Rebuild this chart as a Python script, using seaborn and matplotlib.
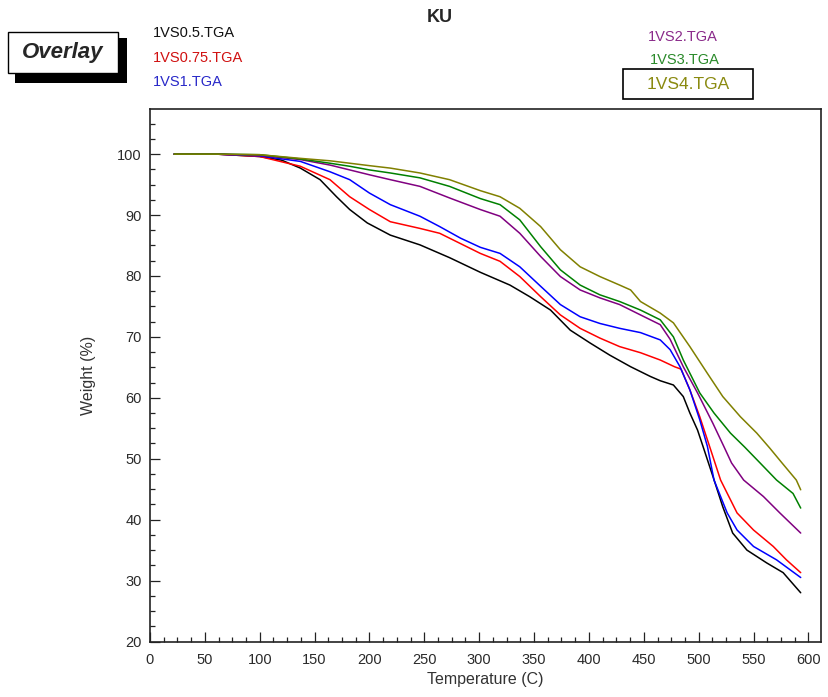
import numpy as np
import pandas as pd
import seaborn as sns
import matplotlib.pyplot as plt
from matplotlib.patches import Rectangle
from matplotlib.ticker import MultipleLocator

# TGA curves: temperature (C) and weight (%)
t_05 = [22, 60, 100, 120, 137, 155, 170, 182, 198, 219, 246, 273, 301, 328, 346, 365, 383, 401,
        419, 438, 456, 465, 477, 486, 492, 499, 504, 513, 522, 531, 544, 562, 577, 593]
w_05 = [100, 100, 99.6, 99.0, 97.7, 95.8, 93.0, 90.9, 88.7, 86.7, 85.1, 83.0, 80.6, 78.5, 76.6, 74.4, 71.1, 69.0,
        67.0, 65.1, 63.5, 62.8, 62.1, 60.2, 57.5, 54.7, 52.0, 47.1, 42.1, 37.8, 35.0, 32.9, 31.3, 28.0]

t_075 = [22, 60, 100, 137, 164, 182, 200, 219, 246, 264, 301, 319, 337, 356, 374, 392, 410, 428,
         447, 465, 478, 484, 492, 501, 510, 520, 535, 550, 568, 580, 593]
w_075 = [100, 100, 99.6, 98.0, 95.8, 93.0, 90.9, 88.9, 87.8, 87.0, 83.7, 82.4, 79.9, 76.6, 73.6, 71.4, 69.8, 68.4,
         67.4, 66.2, 65.1, 64.7, 61.3, 56.9, 52.0, 46.5, 41.1, 38.3, 35.6, 33.4, 31.3]

t_1 = [22, 60, 100, 137, 164, 182, 200, 219, 246, 264, 283, 301, 319, 337, 356, 374, 392, 410,
       428, 447, 465, 474, 483, 492, 501, 508, 514, 526, 535, 550, 571, 593]
w_1 = [100, 100, 99.7, 98.8, 97.1, 95.8, 93.6, 91.7, 89.8, 88.1, 86.2, 84.7, 83.7, 81.5, 78.3, 75.3, 73.3, 72.2,
       71.4, 70.7, 69.5, 67.9, 65.1, 61.3, 56.4, 52.0, 46.5, 41.1, 38.3, 35.6, 33.4, 30.5]

t_2 = [22, 60, 100, 137, 164, 182, 200, 219, 246, 273, 301, 319, 337, 356, 374, 392, 410, 428,
       447, 465, 474, 486, 499, 513, 523, 530, 541, 559, 574, 593]
w_2 = [100, 100, 99.8, 99.1, 98.2, 97.4, 96.6, 95.8, 94.7, 92.8, 90.9, 89.8, 87.0, 83.2, 79.9, 77.7, 76.4, 75.3,
       73.6, 72.0, 69.6, 65.1, 60.8, 55.8, 52.0, 49.3, 46.5, 43.8, 41.1, 37.8]

t_3 = [22, 60, 100, 137, 164, 182, 200, 219, 246, 273, 301, 319, 337, 356, 374, 392, 410, 428,
       447, 465, 477, 486, 501, 514, 529, 542, 556, 571, 586, 593]
w_3 = [100, 100, 99.9, 99.2, 98.5, 98.0, 97.4, 96.9, 96.1, 94.7, 92.7, 91.7, 89.2, 84.8, 81.0, 78.5, 76.9, 75.8,
       74.4, 72.8, 70.0, 66.2, 60.8, 57.5, 54.2, 51.9, 49.3, 46.5, 44.3, 41.9]

t_4 = [22, 60, 100, 137, 164, 182, 200, 219, 246, 273, 301, 319, 337, 356, 374, 392, 410, 428,
       438, 447, 465, 477, 492, 508, 522, 538, 553, 565, 576, 589, 593]
w_4 = [100, 100, 99.9, 99.3, 98.9, 98.5, 98.1, 97.7, 96.9, 95.8, 94.0, 93.0, 91.1, 88.1, 84.3, 81.5, 79.9, 78.5,
       77.7, 75.8, 73.9, 72.3, 68.4, 64.0, 60.2, 56.9, 54.2, 51.7, 49.3, 46.5, 44.9]

names = ['1VS0.5.TGA', '1VS0.75.TGA', '1VS1.TGA', '1VS2.TGA', '1VS3.TGA', '1VS4.TGA']
line_colors = ['#000000', '#ff0000', '#0000ff', '#800080', '#008000', '#808000']
text_colors = ['#111111', '#d01010', '#2828c8', '#8a2a8a', '#2a8a2a', '#8a8a10']

temps = [t_05, t_075, t_1, t_2, t_3, t_4]
weights = [w_05, w_075, w_1, w_2, w_3, w_4]

df = pd.concat([pd.DataFrame({'Temperature': t, 'Weight': w, 'Sample': n})
                for t, w, n in zip(temps, weights, names)], ignore_index=True)

sns.set_style('white')
plt.rcParams['font.family'] = ['Liberation Sans', 'DejaVu Sans']

W, H = 829, 697
fig = plt.figure(figsize=(W / 100, H / 100), dpi=100)

def fx(px):
    return px / W

def fy(py):
    return 1 - py / H

ax = fig.add_axes([fx(150), fy(641.5), fx(821) - fx(150), fy(109) - fy(641.5)])

sns.lineplot(data=df, x='Temperature', y='Weight', hue='Sample', palette=dict(zip(names, line_colors)),
             estimator=None, sort=False, legend=False, linewidth=1.1, ax=ax)

ax.set_xlim(0, 611.5)
ax.set_ylim(20, 107.4)
ax.xaxis.set_major_locator(MultipleLocator(50))
ax.xaxis.set_minor_locator(MultipleLocator(12.5))
ax.yaxis.set_major_locator(MultipleLocator(10))
ax.yaxis.set_minor_locator(MultipleLocator(2.5))
ax.tick_params(which='both', direction='in', bottom=True, left=True, top=False, right=False,
               color='#222222', labelsize=10.5, labelcolor='#2a2a2a')
ax.tick_params(which='major', length=7.2, width=0.9)
ax.tick_params(which='minor', length=3.6, width=0.9)
ax.tick_params(axis='x', pad=8)
ax.tick_params(axis='y', pad=6)
for s in ax.spines.values():
    s.set_color('#222222')
    s.set_linewidth(1.2)
ax.set_xlabel('Temperature (C)', fontsize=11.5, color='#333333', labelpad=4)
ax.set_ylabel('Weight (%)', fontsize=11.5, color='#333333', labelpad=15)

# title
fig.text(fx(440), fy(17), 'KU', ha='center', va='center', fontsize=13, fontweight='bold')

# "Overlay" badge with drop shadow
fig.add_artist(Rectangle((fx(15), fy(82.7)), fx(126.7) - fx(15), fy(38.3) - fy(82.7),
                         transform=fig.transFigure, facecolor='black', edgecolor='none'))
fig.add_artist(Rectangle((fx(8.3), fy(73.3)), fx(118.3) - fx(8.3), fy(31.7) - fy(73.3),
                         transform=fig.transFigure, facecolor='white', edgecolor='black', linewidth=1))
fig.text(fx(63), fy(52.5), 'Overlay', ha='center', va='center', fontsize=16,
         fontweight='bold', fontstyle='italic')

# sample labels
left_pos = [(153, 33), (153, 58), (153, 82)]
for (x, y), n, c in zip(left_pos, names[:3], text_colors[:3]):
    fig.text(fx(x), fy(y), n, ha='left', va='center', fontsize=10.5, color=c)
right_pos = [(648, 37), (650, 60)]
for (x, y), n, c in zip(right_pos, names[3:5], text_colors[3:5]):
    fig.text(fx(x), fy(y), n, ha='left', va='center', fontsize=10.5, color=c)

fig.add_artist(Rectangle((fx(622.7), fy(99.3)), fx(753.3) - fx(622.7), fy(69.3) - fy(99.3),
                         transform=fig.transFigure, facecolor='none', edgecolor='black', linewidth=1.2))
fig.text(fx(688), fy(84.5), names[5], ha='center', va='center', fontsize=12.5, color=text_colors[5])

fig.savefig('out.png', dpi=100)
